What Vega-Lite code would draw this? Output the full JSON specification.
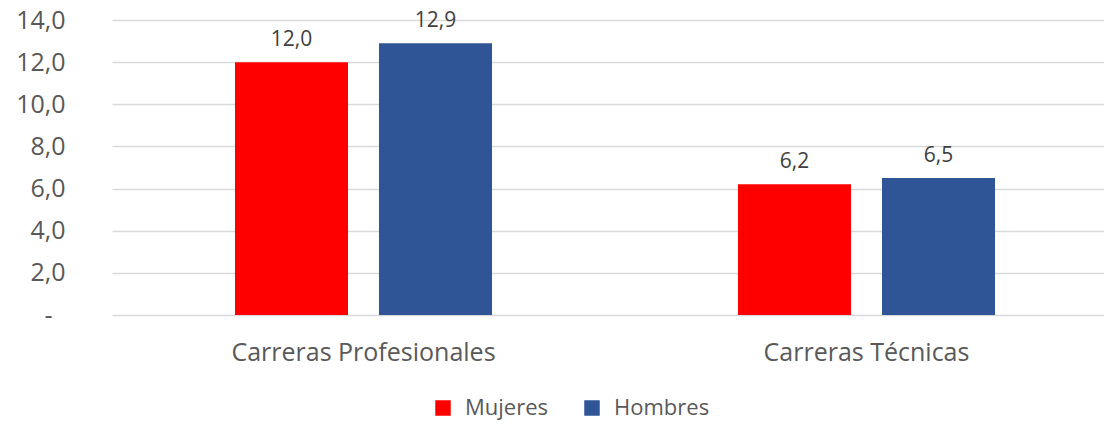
{
  "$schema": "https://vega.github.io/schema/vega-lite/v6.json",
  "width": 992,
  "height": 295,
  "autosize": "none",
  "padding": {"left": 112, "top": 20, "right": 0, "bottom": 109},
  "background": "white",
  "config": {
    "view": {"stroke": null},
    "font": "Open Sans",
    "locale": {"number": {"decimal": ",", "thousands": ".", "grouping": [3], "currency": ["$", ""]}}
  },
  "data": {
    "values": [
      {"carrera": "Carreras Profesionales", "sexo": "Mujeres", "valor": 12.0},
      {"carrera": "Carreras Profesionales", "sexo": "Hombres", "valor": 12.9},
      {"carrera": "Carreras Técnicas", "sexo": "Mujeres", "valor": 6.2},
      {"carrera": "Carreras Técnicas", "sexo": "Hombres", "valor": 6.5}
    ]
  },
  "encoding": {
    "x": {
      "field": "carrera",
      "type": "nominal",
      "sort": null,
      "scale": {"range": [0, 1006], "paddingInner": 0, "paddingOuter": 0},
      "axis": {
        "title": null,
        "labelAngle": 0,
        "labelFontSize": 25,
        "labelColor": "#595959",
        "labelPadding": 25,
        "labelLimit": 0,
        "ticks": false,
        "domain": false
      }
    },
    "xOffset": {
      "field": "sexo",
      "type": "nominal",
      "sort": ["Mujeres", "Hombres"],
      "scale": {"paddingInner": 0.215, "paddingOuter": 0.854}
    },
    "y": {
      "field": "valor",
      "type": "quantitative",
      "scale": {"domain": [0, 14], "nice": false},
      "axis": {
        "title": null,
        "values": [0, 2, 4, 6, 8, 10, 12, 14],
        "format": ".1f",
        "labelExpr": "datum.value == 0 ? '-' : datum.label",
        "labelFontSize": 25,
        "labelColor": "#595959",
        "labelPadding": {"condition": {"test": "datum.value == 0", "value": 60}, "value": 47},
        "ticks": false,
        "domain": false,
        "gridColor": "#D9D9D9",
        "gridWidth": 1.5
      }
    }
  },
  "layer": [
    {
      "mark": {"type": "bar"},
      "encoding": {
        "color": {
          "field": "sexo",
          "type": "nominal",
          "sort": ["Mujeres", "Hombres"],
          "scale": {"domain": ["Mujeres", "Hombres"], "range": ["#FF0000", "#2F5597"]},
          "legend": {
            "title": null,
            "orient": "none",
            "direction": "horizontal",
            "legendX": 320,
            "legendY": 377,
            "symbolType": "square",
            "symbolSize": 240,
            "symbolStrokeWidth": 0,
            "labelFontSize": 22,
            "labelColor": "#595959",
            "labelOffset": 11,
            "columnPadding": 32
          }
        }
      }
    },
    {
      "mark": {"type": "text", "baseline": "alphabetic", "dy": -16, "fontSize": 21, "color": "#404040"},
      "encoding": {
        "text": {"field": "valor", "type": "quantitative", "format": ".1f"}
      }
    }
  ]
}
